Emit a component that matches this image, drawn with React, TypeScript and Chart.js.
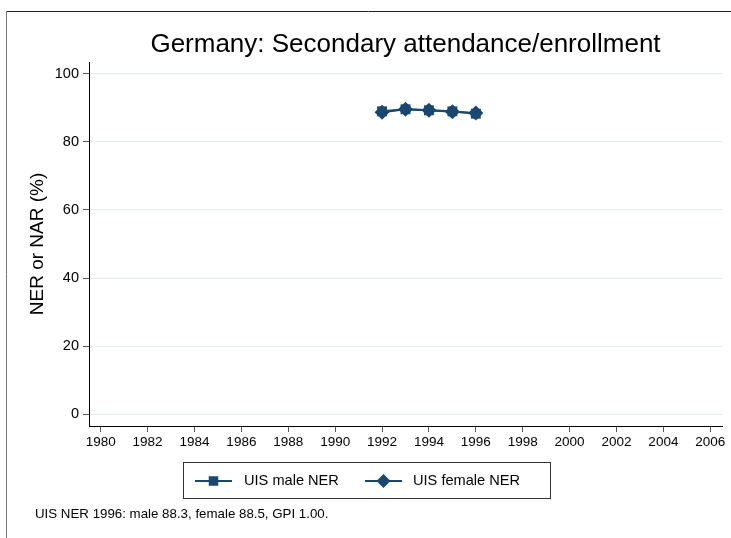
import React, { useEffect, useRef } from "react";
import { Chart, registerables } from "chart.js";

Chart.register(...registerables);

const years = [1992, 1993, 1994, 1995, 1996];
const maleNER = [89.0, 89.6, 89.3, 89.0, 88.3];
const femaleNER = [88.7, 89.6, 89.3, 88.9, 88.5];
const xTicks = [1980, 1982, 1984, 1986, 1988, 1990, 1992, 1994, 1996, 1998, 2000, 2002, 2004, 2006];
const yTicks = [0, 20, 40, 60, 80, 100];
const seriesLabels = ["UIS male NER", "UIS female NER"];
const titleText = "Germany: Secondary attendance/enrollment";
const yTitleText = "NER or NAR (%)";
const noteText = "UIS NER 1996: male 88.3, female 88.5, GPI 1.00.";

const NAVY = "#1a476f";
const FONT = "'Liberation Sans', Arial, Helvetica, sans-serif";

function drawSquare(ctx: CanvasRenderingContext2D, x: number, y: number, s: number) {
  ctx.fillRect(x - s / 2, y - s / 2, s, s);
}
function drawDiamond(ctx: CanvasRenderingContext2D, x: number, y: number, r: number) {
  ctx.beginPath();
  ctx.moveTo(x, y - r);
  ctx.lineTo(x + r, y);
  ctx.lineTo(x, y + r);
  ctx.lineTo(x - r, y);
  ctx.closePath();
  ctx.fill();
}

const decorPlugin = {
  id: "decor",
  afterDraw(chart: any) {
    const ctx: CanvasRenderingContext2D = chart.ctx;
    const area = chart.chartArea;
    ctx.save();
    // outer frame (top & left visible)
    ctx.strokeStyle = "#222";
    ctx.lineWidth = 1;
    ctx.beginPath();
    ctx.moveTo(6, 11.5);
    ctx.lineTo(731, 11.5);
    ctx.stroke();
    ctx.strokeStyle = "#777";
    ctx.beginPath();
    ctx.moveTo(6.5, 11);
    ctx.lineTo(6.5, 538);
    ctx.stroke();

    // title
    ctx.fillStyle = "#000";
    ctx.font = `26px ${FONT}`;
    ctx.textAlign = "center";
    ctx.textBaseline = "middle";
    ctx.fillText(titleText, (area.left + area.right) / 2, 45);

    // y title
    ctx.save();
    ctx.translate(38, (area.top + area.bottom) / 2);
    ctx.rotate(-Math.PI / 2);
    ctx.font = `19px ${FONT}`;
    ctx.fillText(yTitleText, 0, 0);
    ctx.restore();

    // legend box
    ctx.strokeStyle = "#333";
    ctx.lineWidth = 1;
    ctx.strokeRect(183.5, 462.5, 367, 36);
    const ly = 481;
    ctx.strokeStyle = NAVY;
    ctx.fillStyle = NAVY;
    ctx.lineWidth = 2;
    ctx.beginPath();
    ctx.moveTo(195, ly);
    ctx.lineTo(232, ly);
    ctx.stroke();
    drawSquare(ctx, 213.5, ly, 9.5);
    ctx.beginPath();
    ctx.moveTo(365, ly);
    ctx.lineTo(402, ly);
    ctx.stroke();
    drawDiamond(ctx, 383.5, ly, 7);
    ctx.fillStyle = "#000";
    ctx.font = `14.6px ${FONT}`;
    ctx.textAlign = "left";
    ctx.fillText(seriesLabels[0], 244, ly);
    ctx.fillText(seriesLabels[1], 413, ly);

    // note
    ctx.font = `13.3px ${FONT}`;
    ctx.fillText(noteText, 35, 514);
    ctx.restore();
  },
};

export default function App() {
  const ref = useRef<HTMLCanvasElement | null>(null);
  useEffect(() => {
    if (!ref.current) return;
    const chart = new Chart(ref.current, {
      type: "line",
      data: {
        datasets: [
          {
            label: seriesLabels[0],
            data: years.map((y, i) => ({ x: y, y: maleNER[i] })),
            borderColor: NAVY,
            backgroundColor: NAVY,
            borderWidth: 2,
            pointStyle: "rect",
            pointRadius: 7,
            pointBorderWidth: 0,
            tension: 0,
          },
          {
            label: seriesLabels[1],
            data: years.map((y, i) => ({ x: y, y: femaleNER[i] })),
            borderColor: NAVY,
            backgroundColor: NAVY,
            borderWidth: 2,
            pointStyle: "rectRot",
            pointRadius: 7.5,
            pointBorderWidth: 0,
            tension: 0,
          },
        ],
      },
      options: {
        animation: false,
        responsive: false,
        devicePixelRatio: 1,
        layout: { padding: { left: 0, top: 62, right: 9, bottom: 82 } },
        plugins: {
          legend: { display: false },
          title: { display: false },
          tooltip: { enabled: false },
        },
        scales: {
          x: {
            type: "linear",
            min: 1979.5,
            max: 2006.5,
            afterBuildTicks: (scale: any) => {
              scale.ticks = xTicks.map((v) => ({ value: v }));
            },
            afterFit: (scale: any) => {
              scale.height = 30;
            },
            grid: {
              drawOnChartArea: false,
              drawTicks: true,
              tickLength: 6,
              tickColor: "#555",
            },
            border: { display: true, color: "#000", width: 1 },
            ticks: {
              autoSkip: false,
              maxRotation: 0,
              padding: 2,
              color: "#000",
              font: { family: FONT, size: 13.5 },
              callback: (v: any) => String(v),
            },
          },
          y: {
            type: "linear",
            min: -3.5,
            max: 103.5,
            afterBuildTicks: (scale: any) => {
              scale.ticks = yTicks.map((v) => ({ value: v }));
            },
            afterFit: (scale: any) => {
              scale.width = 89;
            },
            grid: {
              drawOnChartArea: true,
              color: "#e6edf0",
              lineWidth: 1,
              drawTicks: true,
              tickLength: 6,
              tickColor: "#555",
            },
            border: { display: true, color: "#000", width: 1 },
            ticks: {
              padding: 4,
              color: "#000",
              font: { family: FONT, size: 14.5 },
              callback: (v: any) => String(v),
            },
          },
        },
      },
      plugins: [decorPlugin],
    });
    return () => chart.destroy();
  }, []);
  return (
    <div style={{ position: "absolute", left: 0, top: 0, width: 731, height: 538, background: "#fff" }}>
      <canvas ref={ref} width={731} height={538} style={{ width: 731, height: 538, display: "block" }} />
    </div>
  );
}
